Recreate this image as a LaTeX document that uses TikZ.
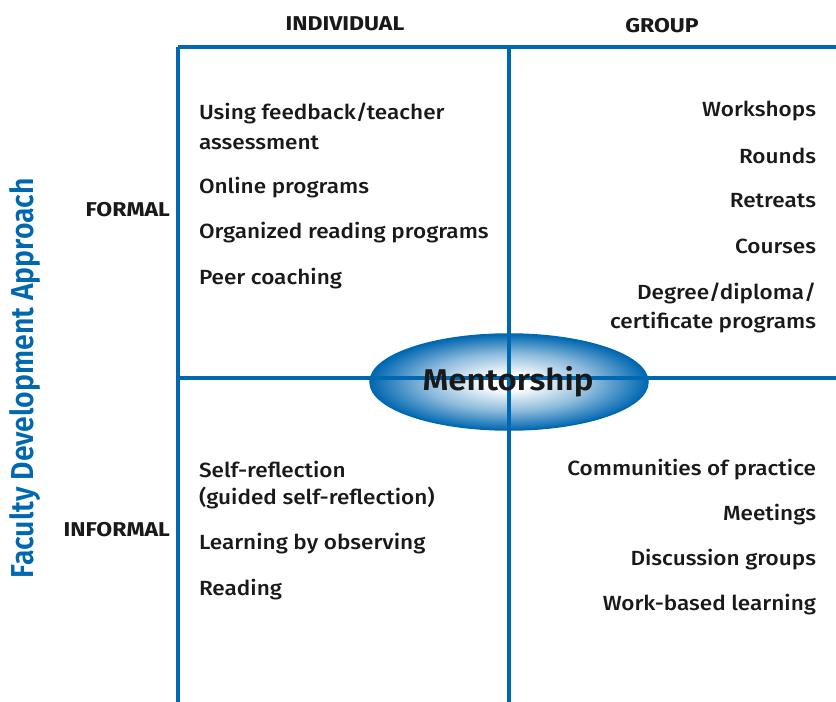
\documentclass[tikz,border=0pt]{standalone}
\usepackage{fontspec}
\setmainfont{Fira Sans}[UprightFont=* Medium, BoldFont=* SemiBold, FakeStretch=1.1]
\newfontfamily\headfont{Fira Sans}[UprightFont=* Bold, FakeStretch=1.15]
\usepackage{graphicx}
\usetikzlibrary{shapes.geometric, positioning, calc}

\definecolor{fdblue}{RGB}{0,103,177}
\pgfdeclareradialshading{mentshade}{\pgfpoint{0bp}{0bp}}{color(0bp)=(white); color(4bp)=(white); color(15bp)=(fdblue!45); color(25bp)=(fdblue); color(50bp)=(fdblue)}

\begin{document}
\begin{tikzpicture}[x=1pt,y=-1pt,every node/.style={inner sep=0pt,outer sep=0pt}]
\tikzstyle{grid}=[fdblue,line width=4pt]
\tikzstyle{item}=[font=\fontsize{20.5}{24}\selectfont,text=black!90]
\tikzstyle{lefti}=[item,anchor=west]
\tikzstyle{righti}=[item,anchor=east]
\tikzstyle{head}=[font=\fontsize{20}{24}\headfont,text=black!90]

\useasboundingbox (0,0) rectangle (836,702);

% centre ellipse
\node (ment) [ellipse,draw=fdblue,line width=1.5pt,shading=mentshade,minimum width=278pt,minimum height=96pt] at (509,382) {};

% the grid
\coordinate (tl) at (178,47);
\coordinate (tm) at (509,47);
\coordinate (tr) at (836,47);
\coordinate (ml) at (178,378);
\coordinate (mr) at (836,378);
\coordinate (bl) at (178,702);
\coordinate (bm) at (509,702);
\draw [grid] (tl) -- (tr);
\draw [grid] (tl) -- (bl);
\draw [grid] (tm) -- (bm);
\draw [grid] (ml) -- (mr);

\node (mtext) [font=\fontsize{30}{36}\selectfont\bfseries,text=black!90] at (508,382) {Mentorship};

% headings
\node (indiv) [head] at (345,24) {INDIVIDUAL};
\node (group) [head] at (662,26) {GROUP};
\node (formal) [head,anchor=east] at (170,210) {FORMAL};
\node (informal) [head,anchor=east] at (170,530) {INFORMAL};
\node (axis) [rotate=90,text=fdblue] at (25,378) {\resizebox{400pt}{24pt}{\bfseries Faculty Development Approach}};

% formal, individual
\node (fi1) [lefti] at (199,113) {Using feedback/teacher};
\node (fi2) [lefti] at (199,143) {assessment};
\node (fi3) [lefti] at (199,188) {Online programs};
\node (fi4) [lefti] at (199,233) {Organized reading programs};
\node (fi5) [lefti] at (199,279) {Peer coaching};

% formal, group
\node (fg1) [righti] at (816,111) {Workshops};
\node (fg2) [righti] at (816,156) {Rounds};
\node (fg3) [righti] at (816,201) {Retreats};
\node (fg4) [righti] at (816,246) {Courses};
\node (fg5) [righti] at (816,293) {Degree/diploma/};
\node (fg6) [righti] at (816,323) {certificate programs};

% informal, individual
\node (ii1) [lefti] at (199,469) {Self-reflection};
\node (ii2) [lefti] at (199,498) {(guided self-reflection)};
\node (ii3) [lefti] at (199,544) {Learning by observing};
\node (ii4) [lefti] at (199,590) {Reading};

% informal, group
\node (ig1) [righti] at (816,470) {Communities of practice};
\node (ig2) [righti] at (816,515) {Meetings};
\node (ig3) [righti] at (816,560) {Discussion groups};
\node (ig4) [righti] at (816,605) {Work-based learning};
\end{tikzpicture}
\end{document}
